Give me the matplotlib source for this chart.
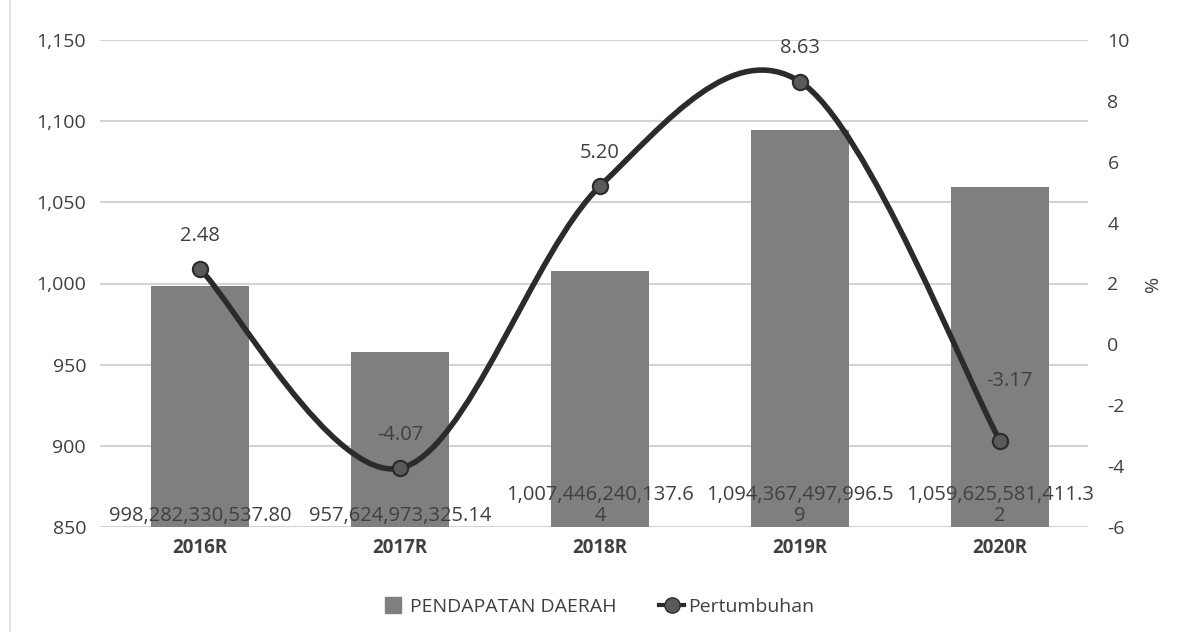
import numpy as np
import matplotlib.pyplot as plt
from matplotlib.path import Path
from matplotlib.patches import PathPatch
from matplotlib.lines import Line2D

years = ['2016R', '2017R', '2018R', '2019R', '2020R']
pendapatan = [998.28233053780, 957.62497332514, 1007.44624013764, 1094.36749799659, 1059.62558141132]  # miliar
pendapatan_lbl = ['998,282,330,537.80', '957,624,973,325.14', '1,007,446,240,137.6\n4',
                  '1,094,367,497,996.5\n9', '1,059,625,581,411.3\n2']
pertumbuhan = [2.48, -4.07, 5.20, 8.63, -3.17]

txt = '#404040'
plt.rcParams['font.family'] = ['Open Sans', 'DejaVu Sans']
plt.rcParams['axes.unicode_minus'] = False

fig = plt.figure(figsize=(11.95, 6.32), dpi=100)
ax = fig.add_axes([100 / 1195, 105 / 632, 988 / 1195, 487 / 632])
ax2 = ax.twinx()

x = np.arange(len(years))
ax.bar(x, [v - 850 for v in pendapatan], bottom=850, width=0.49, color='#7f7f7f', zorder=2)
ax.set_ylim(850, 1150)
ax.set_xlim(-0.5, 4.44)
ax.set_yticks(np.arange(850, 1151, 50))
ax.set_yticklabels([f'{v:,}' for v in range(850, 1151, 50)])
ax.grid(axis='y', color='#d4d4d4', lw=1.5, zorder=0)
ax.set_axisbelow(True)
ax.set_xticks(x)
ax.set_xticklabels(years, fontweight='bold', fontsize=13.5, color=txt)
ax.tick_params(axis='y', length=0, pad=10, labelsize=14, labelcolor=txt)
ax.tick_params(axis='x', length=0, pad=8)
for s in ax.spines.values():
    s.set_visible(False)

for i, lbl in enumerate(pendapatan_lbl):
    ax.annotate(lbl, (x[i], 850), xytext=(0, 1), textcoords='offset points',
                ha='center', va='bottom', fontsize=14.5, color=txt, linespacing=1.05, zorder=5)

# smoothed line (Excel style Bezier through the data points)
ax2.set_ylim(-6, 10)
ax2.set_yticks(np.arange(-6, 11, 2))
ax2.tick_params(axis='y', length=0, pad=14, labelsize=14, labelcolor=txt)
ax2.set_ylabel('%', rotation=90, color=txt, fontsize=14, labelpad=10)
for s in ax2.spines.values():
    s.set_visible(False)

pts = list(zip(x.astype(float), pertumbuhan))
verts = [pts[0]]
codes = [Path.MOVETO]
n = len(pts)
for i in range(n - 1):
    p0 = np.array(pts[max(i - 1, 0)])
    p1 = np.array(pts[i])
    p2 = np.array(pts[i + 1])
    p3 = np.array(pts[min(i + 2, n - 1)])
    c1 = p1 + (p2 - p0) / 6
    c2 = p2 - (p3 - p1) / 6
    verts += [tuple(c1), tuple(c2), tuple(p2)]
    codes += [Path.CURVE4] * 3
ax2.add_patch(PathPatch(Path(verts, codes), fill=False, ec='#2b2b2b', lw=4, zorder=3,
                        capstyle='round', joinstyle='round'))
ax2.plot(x, pertumbuhan, 'o', ms=11, mfc='#5a5a5a', mec='#2b2b2b', mew=1.5, zorder=4)

for i, v in enumerate(pertumbuhan):
    off = 24 if i != 4 else 43
    dx = 0 if i != 4 else 7
    ax2.annotate(f'{v:.2f}', (x[i], v), xytext=(dx, off), textcoords='offset points',
                 ha='center', va='center', fontsize=14.5, color=txt)

handles = [Line2D([], [], ls='none', marker='s', ms=11, color='#7f7f7f', label='PENDAPATAN DAERAH'),
           Line2D([], [], color='#2b2b2b', lw=3, marker='o', ms=11, mfc='#5a5a5a',
                  mec='#2b2b2b', label='Pertumbuhan')]
fig.legend(handles=handles, loc='center', bbox_to_anchor=(0.5, 0.04), ncol=2, frameon=False,
           fontsize=14, labelcolor=txt, handlelength=1.3,
           handletextpad=0.2, columnspacing=2.2)

fig.add_artist(Line2D([10 / 1195, 10 / 1195], [0, 1], color='#dddddd', lw=1.2))

fig.savefig('out.png', dpi=100)
